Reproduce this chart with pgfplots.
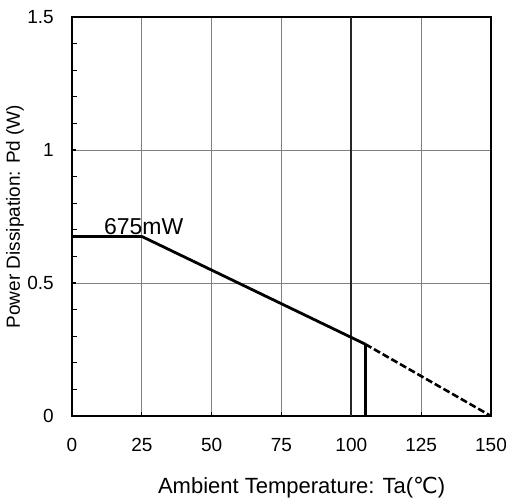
\documentclass[border=0pt]{standalone}
\usepackage{fontspec}
\setmainfont{Liberation Sans}
\newfontfamily\dejavu{DejaVu Sans}
\usepackage{pgfplots}
\pgfplotsset{compat=1.18}
\begin{document}
\fontsize{18}{21}\selectfont
\begin{tikzpicture}
\begin{axis}[
 scale only axis, width=419pt, height=399pt,
 xmin=0, xmax=150, ymin=0, ymax=1.5,
 xtick={0,25,50,75,100,125,150},
 ytick={0,0.5,1,1.5},
 minor ytick={0.1,0.2,0.3,0.4,0.6,0.7,0.8,0.9,1.1,1.2,1.3,1.4},
 tick pos=left, tick align=inside,
 major tick length=4pt, minor tick length=5pt,
 every tick/.style={black, line width=1.3pt},
 xmajorgrids, ymajorgrids,
 grid style={gray, line width=0.7pt},
 axis line style={line width=2.6pt},
 /pgf/number format/assume math mode=true,
 ticklabel style={font=\fontsize{19}{22}\selectfont},
 xticklabel style={anchor=north, inner sep=0pt, yshift=-22pt},
 yticklabel style={anchor=east, inner sep=0pt, xshift=-18pt},
 xlabel={Ambient Temperature: Ta({\dejavu ℃})},
 ylabel={Power Dissipation: Pd (W)},
 xlabel style={font=\fontsize{22}{25}\selectfont, at={(axis description cs:0.548,0)}, anchor=base, inner sep=0pt, yshift=-77pt},
 ylabel style={font=\fontsize{19}{22}\selectfont, at={(axis description cs:0,0.5)}, anchor=center, inner sep=0pt, yshift=57pt},
]
\addplot[black!85, line width=2pt] coordinates {(100,0) (100,1.5)};
\addplot[black, line width=3.5pt] coordinates {(0,0.675) (25,0.675)};
\addplot[black, line width=2.8pt] coordinates {(25,0.675) (105,0.27)};
\addplot[black, line width=2.6pt, dash pattern=on 7pt off 3pt] coordinates {(105,0.27) (150,0)};
\addplot[black, line width=3.2pt] coordinates {(105,0) (105,0.27)};
\node[anchor=base west, inner sep=0pt, font=\fontsize{23}{26}\selectfont] at (axis cs:11.4,0.682) {675mW};
\end{axis}
\pgfresetboundingbox
\path[use as bounding box] (-72pt,-87pt) rectangle (439pt,416pt);
\end{tikzpicture}
\end{document}
